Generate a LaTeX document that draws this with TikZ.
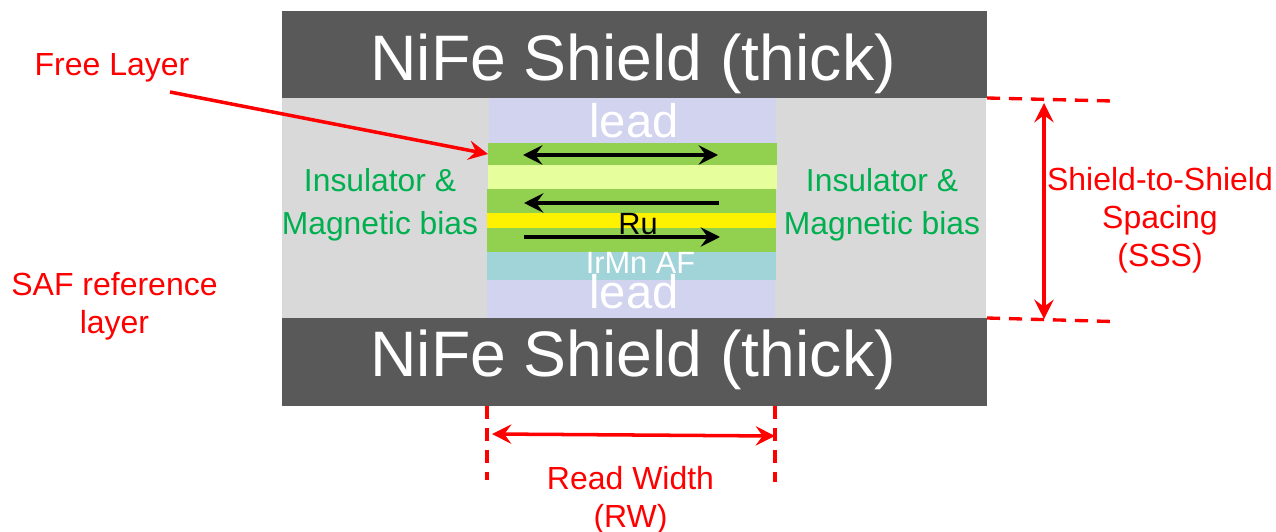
\documentclass[tikz,border=0pt]{standalone}
\usepackage{fontspec}
\setmainfont{Liberation Sans}
\usetikzlibrary{arrows.meta}

\definecolor{shieldgray}{HTML}{595959}
\definecolor{fillgray}{HTML}{D9D9D9}
\definecolor{leadblue}{HTML}{D2D3EE}
\definecolor{layergreen}{HTML}{92D050}
\definecolor{spacerlime}{HTML}{E6FF9C}
\definecolor{afteal}{HTML}{A0D4D8}
\definecolor{biasgreen}{HTML}{00B050}

\begin{document}
\begin{tikzpicture}[
    >={Stealth[length=11pt, width=11pt, inset=4pt]},
    layer/.style={
        rectangle,
        inner sep=0pt,
        outer sep=0pt,
        minimum width=5.78cm
    },
    shieldbox/.style={layer, fill=shieldgray, minimum width=14.1cm},
    shieldtext/.style={text=white, inner sep=0pt, font=\fontsize{36.6}{40}\selectfont},
    label/.style={align=center, text=red, font=\fontsize{18.2}{21.6}\selectfont},
    biaslabel/.style={align=center, text=biasgreen, font=\fontsize{18.1}{24.4}\selectfont},
    leadtext/.style={text=white, inner sep=0pt, font=\fontsize{26.8}{30}\selectfont},
    moment/.style={<->, line width=1.8pt, draw=black},
    dim/.style={<->, line width=2pt, draw=red},
    extline/.style={line width=1.9pt, draw=red, dash pattern=on 7.5pt off 5pt}
]
\useasboundingbox (0, 0) rectangle (25.52, 10.62);

% gap and shields
\node[layer, fill=fillgray, minimum width=14.08cm, minimum height=4.4cm] (gap) at (12.68, 6.46) {};
\node[shieldbox, minimum height=1.74cm] (topshield) at (12.69, 9.53) {};
\node[shieldbox, minimum height=1.76cm] (botshield) at (12.69, 3.38) {};
\node[shieldtext] (toptext) at (12.66, 9.34) {NiFe Shield (thick)};
\node[shieldtext] (bottext) at (12.66, 3.42) {NiFe Shield (thick)};

% sensor stack
\node[layer, fill=leadblue, minimum width=5.74cm, minimum height=0.9cm] (toplead) at (12.65, 8.21) {};
\node[layer, fill=layergreen, minimum height=0.44cm] (free) at (12.65, 7.54) {};
\node[layer, fill=spacerlime, minimum height=0.48cm] (spacer) at (12.64, 7.08) {};
\node[layer, fill=layergreen, minimum height=0.48cm] (refone) at (12.63, 6.60) {};
\node[layer, fill=yellow, minimum height=0.30cm] (ru) at (12.63, 6.21) {};
\node[layer, fill=layergreen, minimum height=0.48cm] (reftwo) at (12.63, 5.82) {};
\node[layer, fill=afteal, minimum height=0.56cm] (af) at (12.63, 5.30) {};
\node[layer, fill=leadblue, minimum width=5.76cm, minimum height=0.76cm] (botlead) at (12.62, 4.64) {};

\node[leadtext] (toplabel) at (12.68, 8.20) {lead};
\node[leadtext] (botlabel) at (12.68, 4.78) {lead};
\node[text=white, inner sep=0pt, font=\fontsize{17.5}{20}\selectfont] (aflabel) at (12.81, 5.36) {IrMn AF};
\node[text=black, inner sep=0pt, font=\fontsize{17.5}{20}\selectfont] (rulabel) at (12.76, 6.14) {Ru};

% moments
\coordinate (freel) at (10.46, 7.52);
\coordinate (freer) at (14.36, 7.52);
\coordinate (onel) at (10.48, 6.56);
\coordinate (oner) at (14.38, 6.56);
\coordinate (twol) at (10.48, 5.88);
\coordinate (twor) at (14.40, 5.88);
\draw[moment] (freel) -- (freer);
\draw[moment, <-] (onel) -- (oner);
\draw[moment, ->] (twol) -- (twor);

% labels
\node[biaslabel] (biasl) at (7.60, 6.52) {Insulator \&\\Magnetic bias};
\node[biaslabel] (biasr) at (17.64, 6.52) {Insulator \&\\Magnetic bias};
\node[label] (freetext) at (2.24, 9.26) {Free Layer};
\node[label] (saftext) at (2.29, 4.50) {SAF reference\\layer};
\node[label] (ssstext) at (23.20, 6.22) {Shield-to-Shield\\Spacing\\(SSS)};
\node[label] (rwtext) at (12.61, 0.62) {Read Width\\(RW)};

% free layer pointer
\coordinate (freetail) at (3.40, 8.78);
\draw[->, line width=2pt, draw=red] (freetail) -- (free.west);

% shield to shield
\coordinate (sssatop) at (22.24, 8.60);
\coordinate (sssabot) at (22.24, 4.19);
\coordinate (sssdtop) at (20.88, 8.56);
\coordinate (sssdbot) at (20.88, 4.24);
\draw[extline] (topshield.south east) -- (sssatop);
\draw[extline] (botshield.north east) -- (sssabot);
\draw[dim] (sssdtop) -- (sssdbot);

% read width
\coordinate (rwlt) at (9.74, 2.50);
\coordinate (rwlb) at (9.74, 1.02);
\coordinate (rwrt) at (15.50, 2.50);
\coordinate (rwrb) at (15.50, 0.98);
\coordinate (rwdl) at (9.84, 1.94);
\coordinate (rwdr) at (15.50, 1.90);
\draw[extline] (rwlt) -- (rwlb);
\draw[extline] (rwrt) -- (rwrb);
\draw[dim] (rwdl) -- (rwdr);

\end{tikzpicture}
\end{document}
